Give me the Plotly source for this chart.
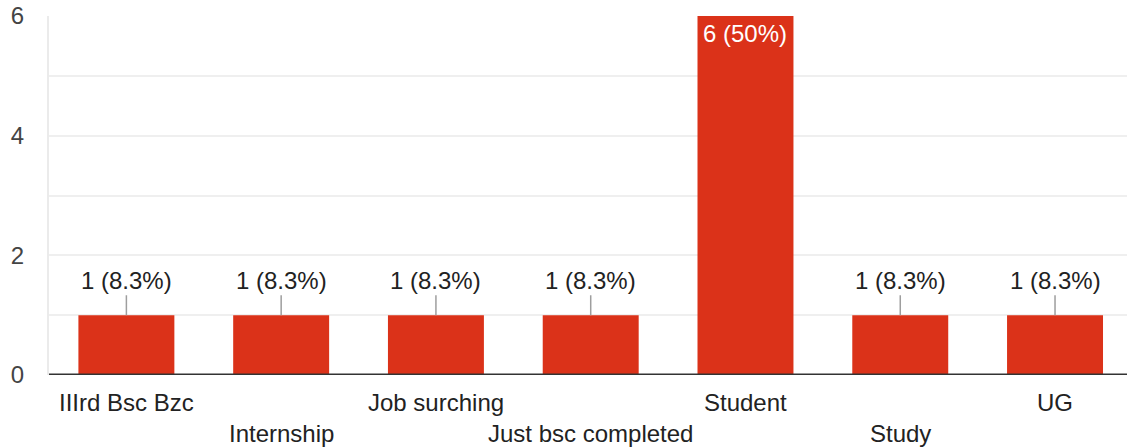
import plotly.graph_objects as go

categories = ["IIIrd Bsc Bzc", "Internship", "Job surching", "Just bsc completed",
              "Student", "Study", "UG"]
counts = [1, 1, 1, 1, 6, 1, 1]
labels = ["1 (8.3%)", "1 (8.3%)", "1 (8.3%)", "1 (8.3%)", "6 (50%)", "1 (8.3%)", "1 (8.3%)"]
y_ticks = [0, 2, 4, 6]

FONT = "Liberation Sans, Arial, sans-serif"
BAR = "#DB3219"
FS = 24

fig = go.Figure(go.Bar(
    x=list(range(len(categories))), y=counts,
    marker=dict(color=BAR, line=dict(width=0)),
    width=0.62, hoverinfo="skip",
))

ann = []
for i, (c, v, t) in enumerate(zip(categories, counts, labels)):
    ann.append(dict(x=i, y=0, xref="x", yref="y", text=c, showarrow=False,
                    yshift=-27 if i % 2 == 0 else -58,
                    font=dict(family=FONT, size=FS, color="#222222")))
    if v == max(counts):
        ann.append(dict(x=i, y=v, xref="x", yref="y", text=t, showarrow=False,
                        yshift=-17, font=dict(family=FONT, size=FS, color="#ffffff")))
    else:
        ann.append(dict(x=i, y=v, xref="x", yref="y", text=t, showarrow=True,
                        ax=0, ay=-35, arrowhead=0, arrowwidth=1.5, arrowcolor="#9e9e9e",
                        standoff=0, startstandoff=0,
                        font=dict(family=FONT, size=FS, color="#222222")))

fig.update_layout(
    width=1127, height=448,
    margin=dict(l=49, r=0, t=16, b=73),
    paper_bgcolor="white", plot_bgcolor="white",
    showlegend=False,
    annotations=ann,
    xaxis=dict(range=[-0.5, 6.465], showticklabels=False,
               showgrid=False, zeroline=False, showline=False, ticks=""),
    yaxis=dict(range=[0, 6], tickvals=y_ticks, showgrid=True, gridcolor="#efefef",
               gridwidth=2, tickmode="array",
               zeroline=False, showline=True, linecolor="#ebebeb", linewidth=2,
               tickfont=dict(family=FONT, size=FS, color="#444444"),
               ticklabelstandoff=18, ticks=""),
    font=dict(family=FONT),
)
fig.update_yaxes(minor=dict(dtick=1, showgrid=True, gridcolor="#efefef", gridwidth=2))
fig.add_hline(y=0, line=dict(color="#333333", width=3), layer="above")

fig.write_html("out.html", config={"displayModeBar": False},
               post_script="document.body.style.margin='0';document.body.style.overflow='hidden';")
